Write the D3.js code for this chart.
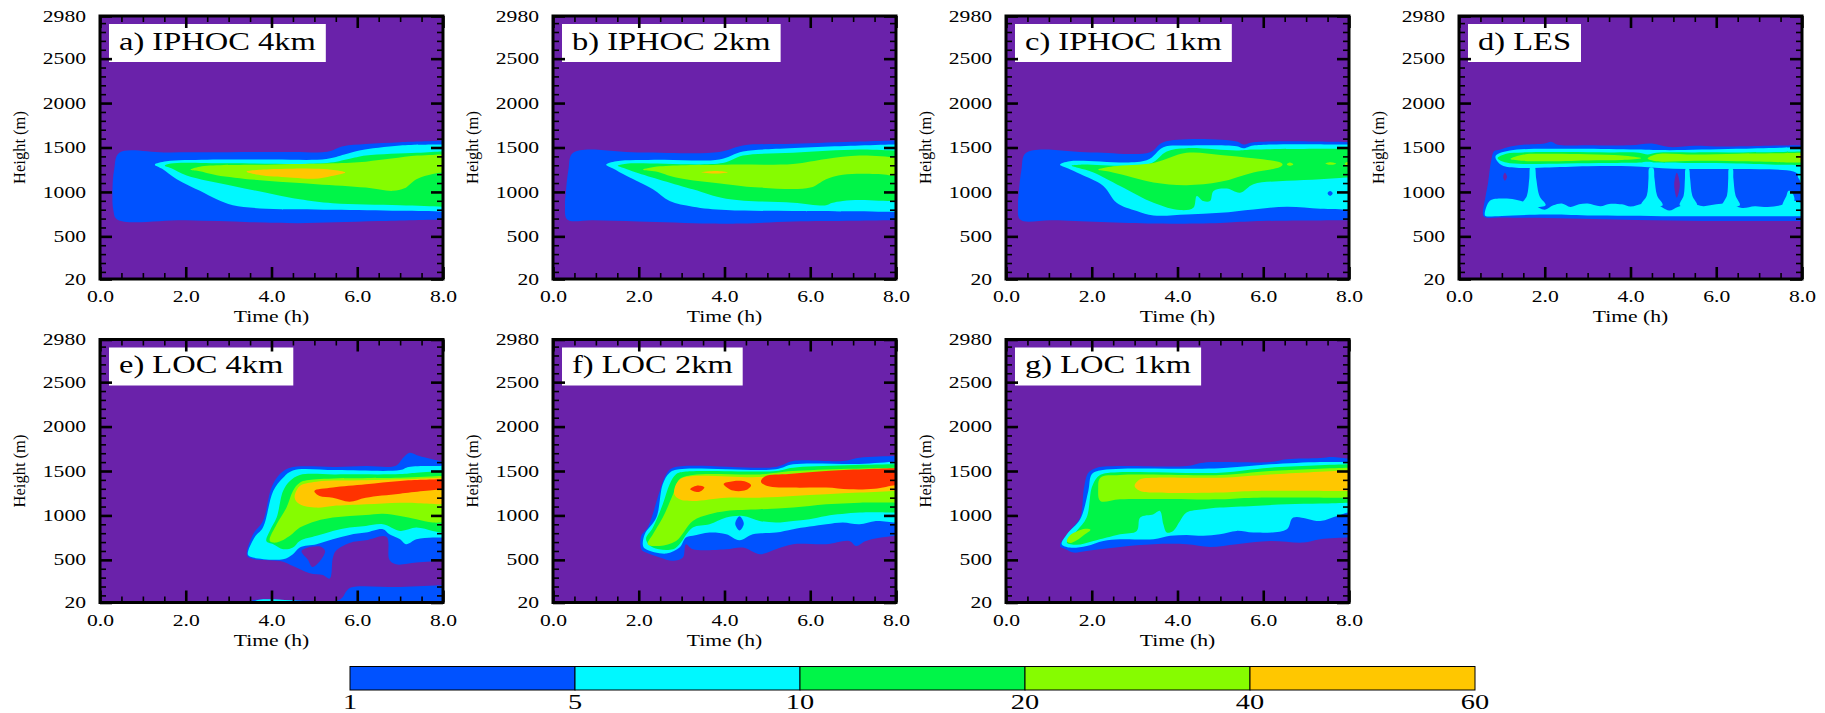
<!DOCTYPE html>
<html>
<head>
<meta charset="utf-8">
<script src="https://cdn.jsdelivr.net/npm/d3@7"></script>
<style>
  body { margin: 0; background: #fff; }
  text { font-family: "Liberation Serif", "Times New Roman", serif; fill: #000; }
</style>
</head>
<body>
<svg id="fig" width="1825" height="713"></svg>
<script>
// cloud fraction (%) contour regions
// each region: [level, [[time (h), height (m)], ...]]  level -1 = below 1%
var iphoc4 = [
  [0, [[0.29,1000],[0.33,1250],[0.45,1440],[1.5,1445],[3.0,1447],[4.5,1450],[5.3,1452],[5.67,1515],[6.2,1540],[7.0,1560],[7.9,1575],[8.1,1580],[8.1,690],[6.5,672],[5.5,658],[4.6,648],[3.5,660],[2.0,680],[0.4,690],[0.31,800]]],
  [1, [[1.28,1307],[1.55,1345],[2.5,1362],[4.0,1364],[5.28,1370],[5.7,1420],[6.05,1466],[7.0,1523],[7.92,1534],[8.1,1535],[8.1,780],[7.0,788],[5.43,800],[3.88,811],[3.1,849],[2.72,917],[2.33,1012],[1.79,1144],[1.45,1260]]],
  [2, [[1.51,1296],[1.65,1320],[3.0,1322],[5.3,1325],[5.8,1370],[6.2,1409],[7.4,1440],[8.1,1455],[8.1,834],[7.0,849],[5.43,872],[4.66,917],[4.04,974],[3.1,1068],[2.02,1185],[1.65,1270]]],
  [3, [[2.11,1250],[2.33,1284],[3.88,1307],[5.43,1322],[6.2,1341],[6.8,1375],[7.4,1409],[7.76,1417],[8.1,1420],[8.1,1220],[7.76,1201],[7.38,1144],[7.1,1040],[6.83,1012],[6.2,1049],[5.05,1087],[3.88,1125],[2.72,1189],[2.3,1235]]],
  [4, [[3.42,1228],[3.8,1252],[4.5,1262],[5.0,1260],[5.4,1250],[5.72,1220],[5.4,1180],[5.0,1148],[4.5,1160],[3.8,1185]]]
];
var iphoc2 = [
  [0, [[0.3,1000],[0.36,1250],[0.47,1440],[2.0,1445],[3.88,1450],[4.43,1523],[5.6,1542],[7.15,1568],[8.1,1580],[8.1,681],[7.0,676],[5.6,668],[4.43,644],[3.65,645],[2.0,668],[0.93,681],[0.33,689],[0.28,850]]],
  [1, [[1.24,1307],[1.48,1345],[2.5,1362],[3.88,1366],[4.43,1455],[5.2,1485],[7.15,1523],[8.1,1534],[8.1,777],[5.6,785],[4.04,796],[3.26,834],[2.72,898],[2.33,1030],[1.71,1182],[1.4,1265]]],
  [2, [[1.51,1296],[1.71,1318],[3.96,1326],[4.43,1409],[5.6,1440],[7.15,1477],[8.1,1466],[8.1,898],[7.6,900],[7.15,909],[6.76,898],[6.5,875],[6.37,849],[5.6,879],[4.04,924],[3.26,1030],[1.94,1220],[1.65,1270]]],
  [3, [[2.1,1250],[2.49,1288],[4.04,1307],[5.6,1315],[6.37,1371],[7.15,1409],[8.1,1390],[8.1,1182],[7.53,1201],[6.76,1193],[6.37,1144],[6.0,1049],[4.82,1049],[4.04,1087],[2.87,1163],[2.4,1230]]],
  [4, [[3.46,1221],[3.8,1236],[4.08,1221],[3.8,1206]]]
];
var iphoc1 = [
  [0, [[0.3,1000],[0.36,1250],[0.47,1440],[2.0,1445],[3.36,1447],[3.67,1560],[5.38,1568],[5.54,1534],[5.77,1560],[8.1,1562],[8.1,681],[5.77,670],[5.0,651],[3.44,644],[1.1,681],[0.33,689],[0.28,850]]],
  [1, [[1.26,1307],[1.49,1345],[3.28,1356],[3.67,1504],[4.21,1523],[5.38,1515],[5.54,1492],[5.77,1523],[8.1,1534],[8.1,803],[7.33,811],[6.55,834],[5.77,803],[5.0,765],[4.21,746],[3.44,735],[3.05,785],[2.58,879],[2.27,1068],[1.73,1201],[1.45,1265]]],
  [2, [[1.53,1296],[1.73,1307],[3.36,1318],[3.75,1455],[4.21,1492],[5.38,1466],[5.77,1477],[8.1,1485],[8.1,1163],[7.33,1144],[6.55,1125],[5.77,1087],[5.46,992],[5.15,1038],[4.84,1011],[4.76,898],[4.6,898],[4.45,955],[4.37,822],[4.06,796],[3.44,879],[2.66,1068],[2.04,1220],[1.7,1270]]],
  [3, [[2.15,1250],[2.5,1288],[3.44,1326],[4.21,1440],[5.0,1417],[5.77,1379],[6.39,1333],[6.45,1310],[6.39,1280],[5.77,1220],[5.0,1114],[4.21,1076],[3.44,1106],[2.81,1182],[2.4,1230]]],
  [3, [[6.55,1310],[6.62,1330],[6.7,1310],[6.62,1295]]],
  [3, [[7.45,1320],[7.56,1335],[7.7,1318],[7.56,1305]]],
  [3, [[7.9,1318],[8.1,1340],[8.1,1290]]],
  [0, [[7.5,985],[7.56,1010],[7.62,985],[7.56,955]]]
];
var les = [
  [0, [[0.56,740],[0.62,950],[0.68,1110],[0.75,1350],[0.82,1460],[0.95,1475],[1.2,1510],[1.5,1530],[2.0,1545],[2.15,1565],[2.3,1530],[3.0,1525],[4.0,1525],[4.5,1545],[4.9,1505],[5.5,1520],[6.0,1512],[7.0,1518],[8.1,1525],[8.1,672],[7.0,674],[5.7,674],[4.14,685],[2.59,700],[1.03,712],[0.6,715]]],
  [1, [[0.86,1410],[1.19,1466],[2.59,1485],[4.14,1477],[4.92,1470],[6.47,1485],[8.1,1504],[8.1,1182],[7.8,1230],[7.0,1255],[6.0,1258],[5.0,1262],[4.0,1290],[3.0,1290],[2.0,1275],[1.4,1270],[1.0,1300],[0.86,1370]]],
  [1, [[0.6,745],[0.72,900],[1.0,925],[1.3,915],[1.5,890],[1.75,850],[2.0,800],[2.2,850],[2.4,870],[2.6,830],[2.8,860],[3.0,870],[3.3,840],[3.5,865],[3.8,860],[4.0,835],[4.3,870],[4.6,860],[4.9,790],[5.1,830],[5.4,870],[5.7,840],[6.0,860],[6.3,870],[6.6,820],[6.9,840],[7.2,830],[7.5,850],[7.8,900],[8.1,880],[8.1,725],[7.0,725],[5.0,727],[3.0,735],[2.0,745],[1.0,730],[0.62,728]]],
  [1, [[1.45,850],[1.58,950],[1.64,1150],[1.67,1285],[1.76,1285],[1.8,1150],[1.88,950],[2.02,850]]],
  [1, [[4.25,850],[4.38,960],[4.42,1150],[4.44,1270],[4.53,1270],[4.56,1150],[4.62,960],[4.75,850]]],
  [1, [[5.15,850],[5.24,960],[5.27,1150],[5.29,1260],[5.36,1260],[5.39,1150],[5.44,960],[5.55,850]]],
  [1, [[6.15,850],[6.25,960],[6.28,1150],[6.3,1265],[6.38,1265],[6.4,1150],[6.45,960],[6.55,850]]],
  [1, [[7.55,850],[7.64,960],[7.68,1010],[7.76,1000],[7.82,900]]],
  [1, [[7.9,1180],[8.1,1230],[8.1,1100],[7.95,1130]]],
  [2, [[0.9,1380],[1.1,1430],[1.5,1445],[2.5,1450],[3.5,1445],[4.2,1440],[4.4,1420],[4.6,1440],[5.5,1445],[6.5,1445],[7.5,1450],[8.1,1455],[8.1,1300],[7.5,1305],[6.5,1320],[5.5,1325],[4.6,1330],[4.4,1340],[4.2,1330],[3.5,1325],[2.5,1320],[1.5,1315],[1.1,1330]]],
  [3, [[1.2,1370],[1.5,1420],[2.0,1430],[3.0,1425],[3.8,1410],[4.25,1380],[3.8,1360],[3.0,1355],[2.0,1345],[1.5,1350]]],
  [3, [[4.4,1375],[4.6,1425],[5.5,1420],[6.5,1430],[7.5,1435],[8.1,1440],[8.1,1330],[7.5,1335],[6.5,1345],[5.5,1350],[4.6,1345]]],
  [4, [[7.9,1390],[8.1,1415],[8.1,1370]]],
  [-1, [[1.03,1170],[1.07,1215],[1.12,1170],[1.07,1125]]],
  [-1, [[5.02,1080],[5.08,1215],[5.15,1080],[5.08,935]]]
];
var loc4 = [
  [0, [[3.43,545],[3.57,788],[3.8,938],[4.0,1313],[4.19,1463],[4.43,1537],[5.5,1545],[6.2,1556],[6.9,1560],[7.07,1650],[7.22,1706],[7.45,1668],[7.92,1612],[8.1,1605],[8.1,490],[7.38,470],[6.9,450],[6.75,500],[6.68,760],[6.2,720],[5.82,690],[5.5,600],[5.43,520],[5.36,290],[5.2,330],[4.89,350],[4.5,430],[4.27,480],[3.57,510]]],
  [-1, [[4.7,600],[4.85,640],[5.0,650],[5.15,648],[5.25,600],[5.1,470],[4.95,420],[4.85,500]]],
  [0, [[3.5,30],[4.5,45],[5.6,55],[5.75,150],[5.85,190],[7.0,195],[8.1,215],[8.1,-50],[3.5,-50]]],
  [1, [[3.6,30],[5.0,32],[6.5,34],[8.1,36],[8.1,-50],[3.6,-50]]],
  [1, [[3.45,557],[3.6,750],[3.8,863],[4.04,1275],[4.27,1425],[4.5,1507],[5.5,1510],[7.0,1510],[7.2,1545],[7.92,1556],[8.1,1558],[8.1,751],[7.76,751],[7.38,732],[7.14,676],[7.0,732],[6.75,788],[6.6,845],[6.2,807],[5.82,781],[5.43,732],[5.05,676],[4.66,640],[4.5,564],[4.27,507],[3.57,526]]],
  [2, [[3.88,713],[3.96,826],[4.12,976],[4.27,1275],[4.43,1387],[4.66,1455],[5.5,1462],[7.0,1465],[7.38,1481],[8.1,1500],[8.1,807],[7.76,826],[7.38,863],[7.0,826],[6.6,900],[6.2,882],[5.82,863],[5.43,826],[5.05,770],[4.66,713],[4.5,640],[4.27,620],[4.04,676]]],
  [3, [[3.96,713],[4.12,900],[4.35,1088],[4.5,1275],[4.66,1369],[5.05,1406],[7.0,1425],[8.1,1444],[8.1,920],[7.76,920],[7.38,957],[7.0,994],[6.6,1020],[6.2,1006],[5.82,994],[5.43,976],[5.05,938],[4.66,863],[4.43,770],[4.12,695]]],
  [4, [[4.54,1200],[4.66,1331],[5.05,1380],[6.2,1395],[7.0,1406],[8.1,1425],[8.1,1125],[7.0,1144],[6.2,1125],[5.43,1107],[5.05,1088],[4.66,1125]]],
  [5, [[5.0,1275],[5.43,1313],[6.2,1350],[7.0,1388],[8.1,1406],[8.1,1294],[7.0,1245],[6.2,1200],[5.82,1155],[5.43,1200],[5.12,1219]]]
];
var loc2 = [
  [0, [[2.06,620],[2.06,770],[2.21,863],[2.49,1275],[2.64,1463],[2.8,1537],[5.2,1545],[5.6,1612],[6.76,1612],[7.15,1650],[8.1,1670],[8.1,770],[7.3,713],[7.07,657],[6.91,713],[6.37,676],[5.6,676],[5.2,620],[4.82,564],[4.43,638],[4.04,620],[3.26,620],[3.1,676],[3.03,526],[2.8,489],[2.49,526],[2.17,582]]],
  [1, [[2.1,657],[2.14,788],[2.41,976],[2.56,1350],[2.72,1481],[2.95,1519],[5.2,1519],[5.6,1575],[7.15,1580],[8.1,1605],[8.1,920],[7.53,938],[7.15,900],[6.76,920],[6.37,900],[5.6,845],[5.2,807],[4.66,788],[4.35,721],[4.04,788],[3.65,807],[3.26,770],[3.1,751],[2.95,638],[2.64,571],[2.17,620]]],
  [0, [[4.25,905],[4.35,990],[4.45,905],[4.35,830]]],
  [2, [[2.17,732],[2.33,863],[2.56,1125],[2.72,1350],[2.87,1463],[3.1,1493],[5.2,1500],[5.6,1537],[8.1,1575],[8.1,1032],[7.15,1032],[6.37,994],[5.98,957],[5.6,938],[5.2,920],[4.82,938],[4.43,994],[4.04,976],[3.65,900],[3.26,863],[2.95,676],[2.8,620],[2.33,638]]],
  [3, [[2.21,676],[2.33,788],[2.56,976],[2.8,1238],[2.95,1406],[3.26,1455],[4.82,1462],[5.6,1500],[8.1,1537],[8.1,1144],[7.15,1144],[6.37,1125],[5.6,1088],[4.82,1069],[4.04,1050],[3.65,1013],[3.26,938],[2.87,713],[2.49,657]]],
  [4, [[2.83,1238],[2.87,1350],[3.03,1425],[4.82,1432],[5.6,1470],[8.1,1519],[8.1,1275],[7.15,1257],[6.37,1238],[5.6,1219],[4.82,1200],[4.04,1200],[3.26,1163],[2.95,1182]]],
  [5, [[3.2,1295],[3.35,1335],[3.53,1315],[3.4,1265]]],
  [5, [[3.98,1355],[4.2,1385],[4.5,1380],[4.62,1340],[4.5,1285],[4.2,1280]]],
  [5, [[4.85,1380],[4.95,1440],[5.5,1465],[6.37,1500],[8.1,1530],[8.1,1340],[7.5,1300],[6.91,1294],[6.37,1313],[5.6,1313],[5.0,1331]]]
];
var loc1 = [
  [0, [[1.26,657],[1.49,826],[1.73,976],[1.82,1313],[1.92,1481],[2.12,1537],[2.66,1556],[4.21,1556],[4.6,1594],[6.16,1600],[6.55,1631],[7.33,1645],[7.6,1657],[8.1,1640],[8.1,751],[7.33,732],[6.94,695],[6.16,713],[5.38,676],[4.76,646],[4.21,676],[3.44,676],[2.66,646],[1.88,601],[1.57,582],[1.4,620]]],
  [1, [[1.3,676],[1.42,788],[1.73,957],[1.92,1275],[2.0,1463],[2.19,1507],[4.99,1530],[6.16,1575],[7.33,1601],[8.1,1601],[8.1,1032],[7.72,994],[7.33,938],[6.7,976],[6.55,845],[5.77,807],[5.38,826],[4.99,788],[4.6,770],[4.21,781],[3.83,770],[3.44,732],[2.66,732],[2.27,713],[1.88,657],[1.49,638]]],
  [2, [[1.42,695],[1.65,826],[1.88,976],[2.0,1313],[2.12,1425],[2.27,1470],[4.99,1481],[6.16,1537],[8.1,1575],[8.1,1144],[7.33,1133],[6.55,1125],[5.77,1107],[4.99,1088],[4.6,1069],[4.21,1032],[4.06,938],[3.9,826],[3.75,807],[3.67,900],[3.59,1050],[3.44,1013],[3.13,976],[3.05,826],[2.66,788],[2.04,713],[1.65,669]]],
  [3, [[2.15,1300],[2.2,1425],[2.66,1455],[4.99,1455],[6.16,1500],[8.1,1537],[8.1,1200],[5.77,1200],[4.99,1182],[2.66,1182],[2.2,1163]]],
  [3, [[1.42,710],[1.5,780],[1.65,820],[1.85,850],[1.97,840],[1.85,790],[1.65,720],[1.5,690]]],
  [4, [[3.0,1331],[3.13,1406],[3.44,1425],[4.99,1425],[6.16,1462],[8.1,1507],[8.1,1275],[5.77,1275],[4.99,1257],[3.44,1257],[3.13,1275]]]
];

var panelTitles = ["a) IPHOC 4km", "b) IPHOC 2km", "c) IPHOC 1km", "d) LES", "e) LOC 4km", "f) LOC 2km", "g) LOC 1km"];
var panelRegions = [iphoc4, iphoc2, iphoc1, les, loc4, loc2, loc1];

var heightTicks = [20, 500, 1000, 1500, 2000, 2500, 2980];
var timeTicks = [0, 2, 4, 6, 8];
var levelLabels = ["1", "5", "10", "20", "40", "60"];
var levelColors = ["#0052ff", "#00f8ff", "#00f548", "#86fc00", "#ffc700", "#ff3200"];
var bgColor = "#6a22aa";

var plotW = 343, plotH = 263;
var colLeft = [100, 553, 1006, 1459];
var rowTop = [16, 339.5];
var SX = 1.35; // the original figure is stretched horizontally

var svg = d3.select("#fig");

function stretch(sel, k) {
  sel.each(function() {
    var w = this.getComputedTextLength();
    d3.select(this).attr("textLength", w * k).attr("lengthAdjust", "spacingAndGlyphs");
  });
}

// keep the spline flat where a region runs out of the right edge
function edgeGuard(pts) {
  var out = [], n = pts.length;
  pts.forEach(function(p, j) {
    var prev = pts[(j - 1 + n) % n], next = pts[(j + 1) % n];
    var edge = p[0] > 8.05;
    if (edge && prev[0] <= 8.05) out.push([7.98, p[1]]);
    out.push(p);
    if (edge && next[0] <= 8.05) out.push([7.98, p[1]]);
  });
  return out;
}

var x = d3.scaleLinear().domain([0, 8]).range([0, plotW]);
var y = d3.scaleLinear().domain([20, 2980]).range([plotH, 0]);

var shape = d3.line()
  .x(d => x(d[0]))
  .y(d => y(d[1]))
  .curve(d3.curveCatmullRomClosed.alpha(0.5));

panelRegions.forEach(function(regions, i) {
  var col = i < 4 ? i : i - 4;
  var row = i < 4 ? 0 : 1;
  var g = svg.append("g")
    .attr("transform", `translate(${colLeft[col]},${rowTop[row]})`);

  g.append("clipPath").attr("id", "clip" + i)
    .append("rect").attr("width", plotW).attr("height", plotH);

  var field = g.append("g").attr("clip-path", `url(#clip${i})`);
  field.append("rect").attr("width", plotW).attr("height", plotH).attr("fill", bgColor);
  field.selectAll("path").data(regions).join("path")
    .attr("d", d => shape(edgeGuard(d[1])))
    .attr("fill", d => d[0] < 0 ? bgColor : levelColors[d[0]]);

  // title box
  var title = g.append("text")
    .attr("x", 19).attr("y", 33.5)
    .attr("font-size", "25px")
    .text(panelTitles[i]);
  var tw = title.node().getComputedTextLength() * 1.3;
  stretch(title, 1.3);
  g.insert("rect", "text")
    .attr("x", 9).attr("y", 8)
    .attr("width", tw + 20).attr("height", 38)
    .attr("fill", "#fff");

  // minor ticks
  var minorH = d3.range(100, 3000, 100).filter(v => v % 500 != 0);
  var minorT = d3.range(0.5, 8, 0.5).filter(v => v % 2 != 0);
  [[d3.axisLeft(y).tickValues(minorH), 0, 0],
   [d3.axisRight(y).tickValues(minorH), plotW, 0],
   [d3.axisBottom(x).tickValues(minorT), 0, plotH],
   [d3.axisTop(x).tickValues(minorT), 0, 0]].forEach(function(a) {
    var ax = g.append("g").attr("transform", `translate(${a[1]},${a[2]})`)
      .call(a[0].tickSize(-6).tickFormat(""));
    ax.select(".domain").remove();
    ax.selectAll("line").attr("stroke-width", 1.6);
  });

  // major ticks
  var left = g.append("g")
    .call(d3.axisLeft(y).tickValues(heightTicks).tickSize(-12).tickPadding(14).tickFormat(d3.format("d")));
  var right = g.append("g").attr("transform", `translate(${plotW},0)`)
    .call(d3.axisRight(y).tickValues(heightTicks).tickSize(-12).tickFormat(""));
  var bottom = g.append("g").attr("transform", `translate(0,${plotH})`)
    .call(d3.axisBottom(x).tickValues(timeTicks).tickSize(-12).tickPadding(12).tickFormat(d3.format(".1f")));
  var top = g.append("g")
    .call(d3.axisTop(x).tickValues(timeTicks).tickSize(-12).tickFormat(""));
  [left, right, bottom, top].forEach(function(ax) {
    ax.select(".domain").remove();
    ax.selectAll("line").attr("stroke-width", 2.6);
    ax.selectAll("text").attr("font-family", "Liberation Serif").attr("font-size", "16px");
  });
  stretch(left.selectAll("text"), SX);
  stretch(bottom.selectAll("text"), SX);

  g.append("rect").attr("width", plotW).attr("height", plotH)
    .attr("fill", "none").attr("stroke", "#000").attr("stroke-width", 3);

  var xl = g.append("text")
    .attr("x", plotW / 2).attr("y", plotH + 43)
    .attr("text-anchor", "middle").attr("font-size", "16px")
    .text("Time (h)");
  stretch(xl, SX);

  g.append("text")
    .attr("transform", `translate(-75,${plotH / 2}) rotate(-90)`)
    .attr("text-anchor", "middle").attr("font-size", "16.5px")
    .text("Height (m)");
});

// colour bar
var cb = d3.scaleLinear().domain([0, 5]).range([350, 1475]);
svg.append("g").selectAll("rect").data(levelColors.slice(0, 5)).join("rect")
  .attr("x", (d, i) => cb(i)).attr("y", 666.5)
  .attr("width", cb(1) - cb(0)).attr("height", 23.5)
  .attr("fill", d => d).attr("stroke", "#000").attr("stroke-width", 1);
var cbl = svg.append("g").selectAll("text").data(levelLabels).join("text")
  .attr("x", (d, i) => cb(i)).attr("y", 709)
  .attr("text-anchor", "middle").attr("font-size", "21px")
  .text(d => d);
stretch(cbl, SX);
</script>
</body>
</html>
